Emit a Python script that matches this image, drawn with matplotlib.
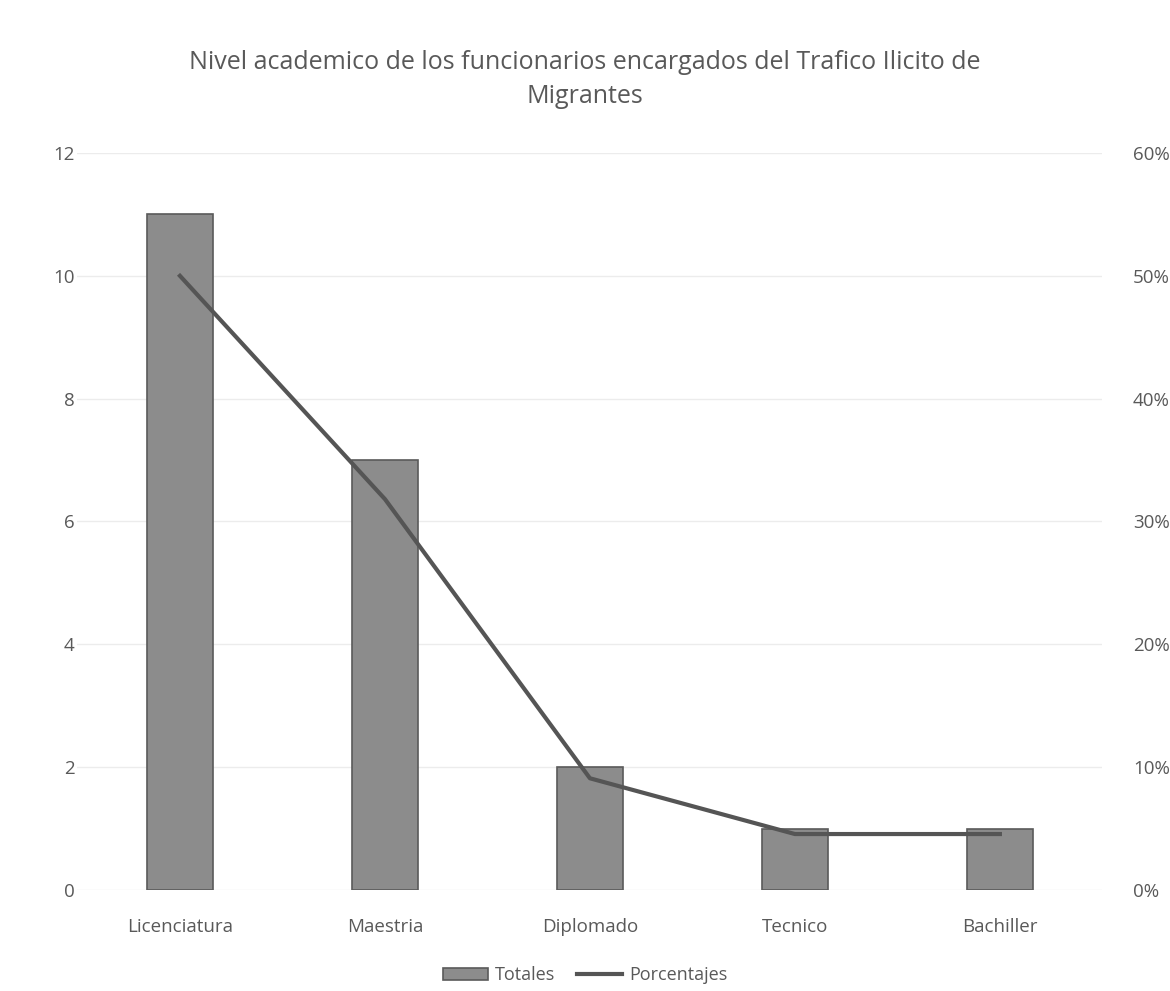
import matplotlib.pyplot as plt
import numpy as np

categorias = ['Licenciatura', 'Maestria', 'Diplomado', 'Tecnico', 'Bachiller']
totales = [11, 7, 2, 1, 1]
porcentajes = [50.0, 31.82, 9.09, 4.55, 4.55]

texto = '#595959'
plt.rcParams['font.family'] = ['Open Sans', 'DejaVu Sans']

fig = plt.figure(figsize=(11.7, 9.91), dpi=100)
ax = fig.add_axes([0.0662, 0.102, 0.876, 0.7436])
x = np.arange(len(categorias))

ax.bar(x, totales, width=0.32, color='#8c8c8c', edgecolor='#5a5a5a',
       linewidth=1.2, label='Totales', zorder=2)
ax.set_ylim(0, 12)
ax.set_yticks(range(0, 13, 2))
ax.set_xlim(-0.5, 4.5)
ax.set_xticks(x)
ax.set_xticklabels(categorias)
ax.grid(axis='y', color='#ececec', linewidth=1, zorder=0)
ax.set_axisbelow(True)

ax2 = ax.twinx()
ax2.plot(x, porcentajes, color='#555555', linewidth=3, label='Porcentajes', zorder=3)
ax2.set_ylim(0, 60)
ax2.set_yticks(range(0, 61, 10))
ax2.set_yticklabels([f'{v}%' for v in range(0, 61, 10)])

for a in (ax, ax2):
    for s in a.spines.values():
        s.set_visible(False)
    a.tick_params(length=0, labelsize=13.5, colors=texto)
ax.tick_params(axis='y', pad=2)
ax2.tick_params(axis='y', pad=22)
ax.tick_params(axis='x', pad=20)

fig.text(0.5, 0.92, 'Nivel academico de los funcionarios encargados del Trafico Ilicito de\nMigrantes',
         ha='center', va='center', fontsize=18, color=texto, linespacing=1.45)

h1, l1 = ax.get_legend_handles_labels()
h2, l2 = ax2.get_legend_handles_labels()
fig.legend(h1 + h2, l1 + l2, loc='center', bbox_to_anchor=(0.5, 0.016), ncol=2,
           frameon=False, fontsize=13, labelcolor=texto, handlelength=2.5,
           columnspacing=1.2, handletextpad=0.4)

fig.savefig('out.png', dpi=100)
